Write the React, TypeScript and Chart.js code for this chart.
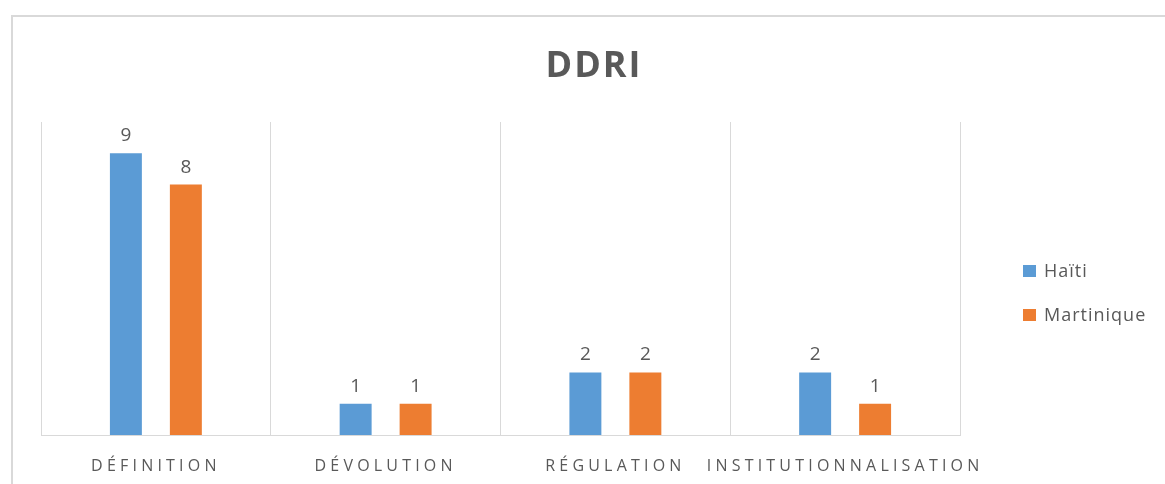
import React, { useEffect, useRef } from "react";
import { Chart, registerables } from "chart.js";

Chart.register(...registerables);

const chartTitle = "DDRI";
const categories = ["DÉFINITION", "DÉVOLUTION", "RÉGULATION", "INSTITUTIONNALISATION"];
const seriesNames = ["Haïti", "Martinique"];
const haiti = [9, 1, 2, 2];
const martinique = [8, 1, 2, 1];
const seriesColors = ["#5B9BD5", "#ED7D31"];
const yMin = 0;
const yMax = 10;

const FONT = '"Open Sans", sans-serif';
const GRAY = "#595959";
const GRID = "#D9D9D9";

const overlayPlugin = {
  id: "overlay",
  beforeDraw(chart: any) {
    chart.ctx.letterSpacing = "4.2px";
  },
  afterDatasetsDraw(chart: any) {
    const ctx = chart.ctx;
    ctx.save();
    ctx.letterSpacing = "0px";
    ctx.font = `19px ${FONT}`;
    ctx.fillStyle = GRAY;
    ctx.textAlign = "center";
    ctx.textBaseline = "alphabetic";
    chart.data.datasets.forEach((ds: any, di: number) => {
      const meta = chart.getDatasetMeta(di);
      meta.data.forEach((bar: any, i: number) => {
        ctx.fillText(String(ds.data[i]), bar.x, bar.y - 12);
      });
    });
    ctx.restore();
  },
  afterDraw(chart: any) {
    const ctx = chart.ctx;
    const area = chart.chartArea;
    ctx.save();
    // title
    ctx.letterSpacing = "2px";
    ctx.font = `bold 36px ${FONT}`;
    ctx.fillStyle = GRAY;
    ctx.textAlign = "center";
    ctx.textBaseline = "alphabetic";
    ctx.fillText(chartTitle, 594, 77);
    // legend
    ctx.letterSpacing = "1px";
    ctx.font = `18px ${FONT}`;
    ctx.textAlign = "left";
    chart.data.datasets.forEach((ds: any, i: number) => {
      const bx = area.right + 63;
      const by = area.top + 143 + i * 44;
      ctx.fillStyle = ds.backgroundColor;
      ctx.fillRect(bx, by, 13, 12);
      ctx.fillStyle = GRAY;
      ctx.fillText(ds.label, bx + 21, by + 12);
    });
    ctx.restore();
    ctx.letterSpacing = "0px";
  },
};

export default function App() {
  const canvasRef = useRef<HTMLCanvasElement | null>(null);

  useEffect(() => {
    if (!canvasRef.current) return;
    const chart = new Chart(canvasRef.current, {
      type: "bar",
      data: {
        labels: categories,
        datasets: [
          {
            label: seriesNames[0],
            data: haiti,
            backgroundColor: seriesColors[0],
            categoryPercentage: 0.522,
            barPercentage: 0.533,
          },
          {
            label: seriesNames[1],
            data: martinique,
            backgroundColor: seriesColors[1],
            categoryPercentage: 0.522,
            barPercentage: 0.533,
          },
        ],
      },
      options: {
        responsive: false,
        animation: false,
        devicePixelRatio: 1,
        layout: { padding: { left: 41, right: 205, top: 122, bottom: 0 } },
        plugins: {
          legend: { display: false },
          title: { display: false },
          tooltip: { enabled: false },
        },
        scales: {
          x: {
            afterFit(scale: any) {
              scale.height = 49;
            },
            grid: { color: GRID, lineWidth: 1, drawTicks: false, offset: true },
            border: { color: GRID, width: 1 },
            ticks: {
              color: GRAY,
              font: { family: "Open Sans", size: 16 },
              padding: 22,
              maxRotation: 0,
              minRotation: 0,
              autoSkip: false,
            },
          },
          y: { display: false, min: yMin, max: yMax },
        },
      },
      plugins: [overlayPlugin],
    });
    return () => chart.destroy();
  }, []);

  return (
    <div
      style={{
        position: "fixed",
        left: 0,
        top: 0,
        width: 1165,
        height: 484,
        overflow: "hidden",
        background: "#fff",
      }}
    >
      <div
        style={{
          position: "absolute",
          left: 11,
          top: 15,
          width: 1220,
          height: 540,
          border: "2px solid #D9D9D9",
          boxSizing: "border-box",
        }}
      />
      <canvas
        ref={canvasRef}
        width={1165}
        height={484}
        style={{ position: "absolute", left: 0, top: 0, width: 1165, height: 484 }}
      />
    </div>
  );
}
